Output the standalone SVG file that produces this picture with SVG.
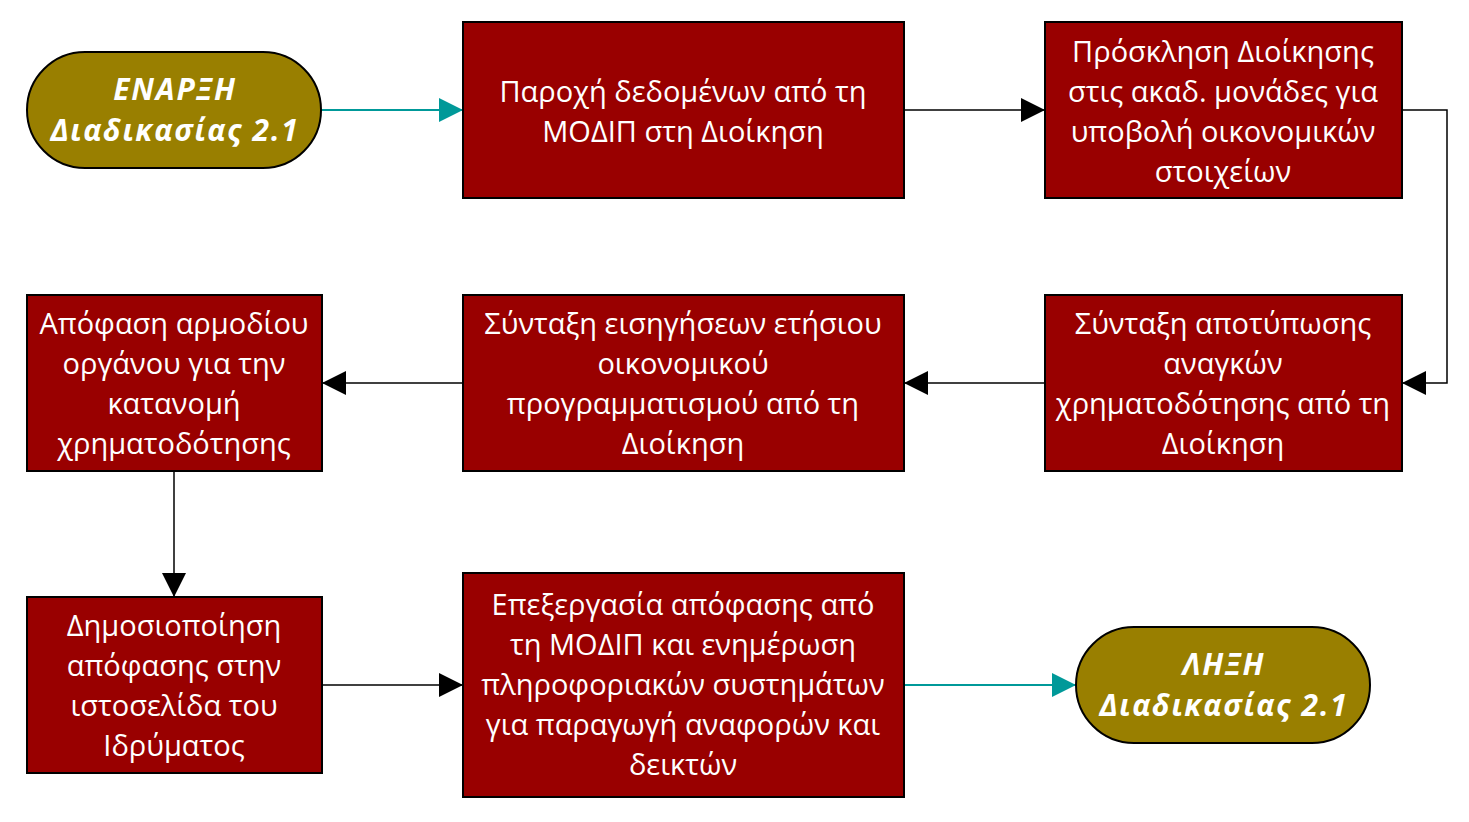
<svg xmlns="http://www.w3.org/2000/svg" width="1469" height="822" viewBox="0 0 1469 822">
<style>
.box{fill:#990000;stroke:#000;stroke-width:2}
.term{fill:#997F00;stroke:#000;stroke-width:2}
.t{font-family:"Open Sans","DejaVu Sans",sans-serif;font-size:29px;fill:#fff;text-anchor:middle}
.tt{font-family:"Open Sans","DejaVu Sans",sans-serif;font-size:30px;letter-spacing:1.8px;font-weight:bold;font-style:italic;fill:#fff;text-anchor:middle}
.c{fill:none;stroke:#000;stroke-width:1.5}
.ct{fill:none;stroke:#009999;stroke-width:2}
</style>
<defs>
<marker id="ab" markerUnits="userSpaceOnUse" markerWidth="24" markerHeight="24" refX="23" refY="12" orient="auto"><path d="M0,0 L24,12 L0,24 Z" fill="#000"/></marker>
<marker id="at" markerUnits="userSpaceOnUse" markerWidth="24" markerHeight="24" refX="23" refY="12" orient="auto"><path d="M0,0 L24,12 L0,24 Z" fill="#009999"/></marker>
</defs>
<rect width="1469" height="822" fill="#fff"/>
<g id="connectors">
<path class="ct" d="M321,110 L462,110" marker-end="url(#at)"/>
<path class="c" d="M904,110 L1044,110" marker-end="url(#ab)"/>
<path class="c" d="M1402,110 L1447,110 L1447,383 L1403,383" marker-end="url(#ab)"/>
<path class="c" d="M1045,383 L905,383" marker-end="url(#ab)"/>
<path class="c" d="M463,383 L323,383" marker-end="url(#ab)"/>
<path class="c" d="M174,471 L174,596" marker-end="url(#ab)"/>
<path class="c" d="M322,685 L462,685" marker-end="url(#ab)"/>
<path class="ct" d="M904,685 L1075,685" marker-end="url(#at)"/>
</g>
<g id="start">
<rect class="term" x="27" y="52" width="294" height="116" rx="58"/>
<text class="tt" x="175" y="100">ΕΝΑΡΞΗ</text>
<text class="tt" x="175" y="141">Διαδικασίας 2.1</text>
</g>
<g id="n1">
<rect class="box" x="463" y="22" width="441" height="176"/>
<text class="t" x="683" y="102">Παροχή δεδομένων από τη</text>
<text class="t" x="683" y="142">ΜΟΔΙΠ στη Διοίκηση</text>
</g>
<g id="n2">
<rect class="box" x="1045" y="22" width="357" height="176"/>
<text class="t" x="1223" y="62">Πρόσκληση Διοίκησης</text>
<text class="t" x="1223" y="102">στις ακαδ. μονάδες για</text>
<text class="t" x="1223" y="142">υποβολή οικονομικών</text>
<text class="t" x="1223" y="182">στοιχείων</text>
</g>
<g id="n3">
<rect class="box" x="1045" y="295" width="357" height="176"/>
<text class="t" x="1223" y="334">Σύνταξη αποτύπωσης</text>
<text class="t" x="1223" y="374">αναγκών</text>
<text class="t" x="1223" y="414">χρηματοδότησης από τη</text>
<text class="t" x="1223" y="454">Διοίκηση</text>
</g>
<g id="n4">
<rect class="box" x="463" y="295" width="441" height="176"/>
<text class="t" x="683" y="334">Σύνταξη εισηγήσεων ετήσιου</text>
<text class="t" x="683" y="374">οικονομικού</text>
<text class="t" x="683" y="414">προγραμματισμού από τη</text>
<text class="t" x="683" y="454">Διοίκηση</text>
</g>
<g id="n5">
<rect class="box" x="27" y="295" width="295" height="176"/>
<text class="t" x="174" y="334">Απόφαση αρμοδίου</text>
<text class="t" x="174" y="374">οργάνου για την</text>
<text class="t" x="174" y="414">κατανομή</text>
<text class="t" x="174" y="454">χρηματοδότησης</text>
</g>
<g id="n6">
<rect class="box" x="27" y="597" width="295" height="176"/>
<text class="t" x="174" y="636">Δημοσιοποίηση</text>
<text class="t" x="174" y="676">απόφασης στην</text>
<text class="t" x="174" y="716">ιστοσελίδα του</text>
<text class="t" x="174" y="756">Ιδρύματος</text>
</g>
<g id="n7">
<rect class="box" x="463" y="573" width="441" height="224"/>
<text class="t" x="683" y="615">Επεξεργασία απόφασης από</text>
<text class="t" x="683" y="655">τη ΜΟΔΙΠ και ενημέρωση</text>
<text class="t" x="683" y="695">πληροφοριακών συστημάτων</text>
<text class="t" x="683" y="735">για παραγωγή αναφορών και</text>
<text class="t" x="683" y="775">δεικτών</text>
</g>
<g id="end">
<rect class="term" x="1076" y="627" width="294" height="116" rx="58"/>
<text class="tt" x="1224" y="675">ΛΗΞΗ</text>
<text class="tt" x="1224" y="716">Διαδικασίας 2.1</text>
</g>
</svg>
